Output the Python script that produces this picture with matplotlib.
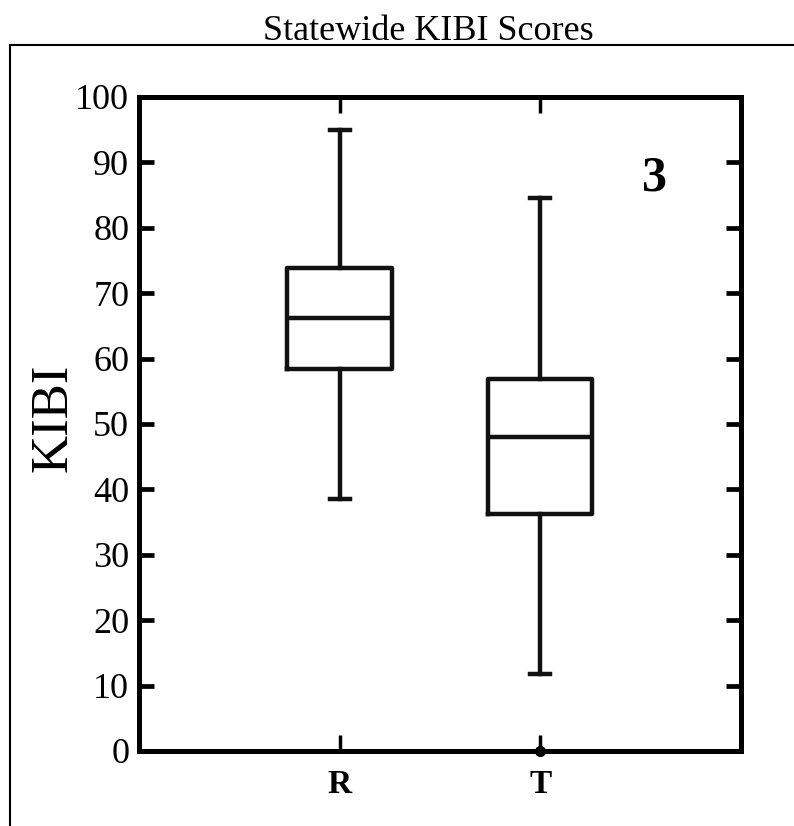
import matplotlib
matplotlib.use("Agg")
import matplotlib.pyplot as plt
from matplotlib.patches import Rectangle

# summary stats
groups = ["R", "T"]
whisker_lo = [38.5, 11.8]
q1 = [58.4, 36.2]
medians = [66.2, 48.0]
q3 = [73.8, 56.9]
whisker_hi = [94.9, 84.6]
outliers = [[], [0.0]]
yticks = list(range(0, 101, 10))

plt.rcParams["font.family"] = ["Liberation Serif", "DejaVu Serif"]

fig = plt.figure(figsize=(7.94, 8.26), dpi=100)
ax = fig.add_axes([0.175, 0.0908, 0.758, 0.7918])

stats = []
for i, g in enumerate(groups):
    stats.append(dict(label=g, whislo=whisker_lo[i], q1=q1[i], med=medians[i],
                      q3=q3[i], whishi=whisker_hi[i], fliers=outliers[i]))

lw = 3.2
col = "#111111"
ax.bxp(stats, positions=[1, 2], widths=0.52, capwidths=0.1, patch_artist=False,
       boxprops=dict(color=col, linewidth=lw),
       medianprops=dict(color=col, linewidth=lw),
       whiskerprops=dict(color=col, linewidth=lw),
       capprops=dict(color=col, linewidth=lw),
       flierprops=dict(marker="o", markerfacecolor="black", markeredgecolor="black",
                       markersize=7, clip_on=False, zorder=5))

ax.set_xlim(0, 3)
ax.set_ylim(0, 100)
ax.set_yticks(yticks)
ax.set_xticks([1, 2])
ax.set_xticklabels(groups, fontsize=24, fontweight="bold")
ax.tick_params(axis="y", direction="in", length=11, width=3.4, labelsize=26,
               left=True, right=True, pad=7)
ax.tick_params(axis="x", direction="in", length=11.5, width=2.5,
               bottom=True, top=True, pad=13)
for s in ax.spines.values():
    s.set_linewidth(3.6)

ax.text(0.857, 0.876, "3", transform=ax.transAxes, fontsize=36,
        fontweight="bold", ha="center", va="center")

fig.text(54 / 794, 0.494, "KIBI", rotation=90, fontsize=38,
         ha="center", va="center")
fig.text(0.540, 0.962, "Statewide KIBI Scores", fontsize=26,
         ha="center", va="center")

# outer frame around the plot panel
fig.patches.append(Rectangle((10 / 794, -0.01), 1.0, 1 - 45 / 826 + 0.01,
                             transform=fig.transFigure, fill=False,
                             edgecolor="black", linewidth=1.5))

fig.savefig("out.png", dpi=100)
